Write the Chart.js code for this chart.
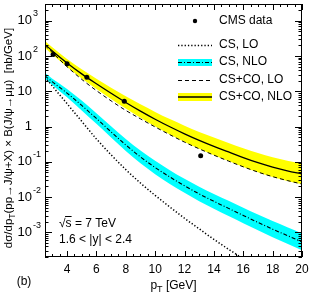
<!DOCTYPE html>
<html>
<head>
<meta charset="utf-8">
<script src="https://cdn.jsdelivr.net/npm/chart.js@4/dist/chart.umd.min.js"></script>
<style>
html, body { margin: 0; padding: 0; background: #fff; }
</style>
</head>
<body>
<canvas id="chart" width="316" height="296"></canvas>
<script>
// pT grid for the theory curves
var pt = [2.5, 3, 4, 5, 6, 7, 8, 9, 10, 11, 12, 13, 14, 15, 16, 17, 18, 19, 20];

// CS, LO (dotted) - runs off the bottom near 15 GeV
var csLO = [25.1, 14.1, 4.47, 1.41, 0.447, 0.158, 0.0603, 0.0251, 0.0112, 0.00525, 0.00251, 0.00126, 0.000631, 0.000331, 0.000178];

// CS, NLO central + band
var csNLO = [27.5, 18.6, 8.91, 3.98, 1.70, 0.708, 0.302, 0.138, 0.0692, 0.0372, 0.0209, 0.0123, 0.00759, 0.00479, 0.00302, 0.00191, 0.00123, 0.000813, 0.000537];
var csNLOHigh = [33.1, 22.9, 11.7, 5.50, 2.40, 1.02, 0.447, 0.209, 0.107, 0.0582, 0.0331, 0.0197, 0.0123, 0.00785, 0.00501, 0.00320, 0.00209, 0.00140, 0.000933];
var csNLOLow = [22.9, 15.1, 6.76, 2.88, 1.20, 0.490, 0.204, 0.0912, 0.0447, 0.0237, 0.0132, 0.00767, 0.00468, 0.00292, 0.00182, 0.00114, 0.000724, 0.000473, 0.000309];

// CS+CO, LO (dashed)
var coLO = [200, 126, 50.1, 21.9, 10.5, 5.37, 2.88, 1.66, 0.977, 0.589, 0.363, 0.234, 0.155, 0.105, 0.0724, 0.0513, 0.0380, 0.0295, 0.0234];

// CS+CO, NLO central + band
var coNLO = [214, 140, 63.8, 31.3, 16.4, 8.81, 4.84, 2.75, 1.62, 0.989, 0.624, 0.407, 0.275, 0.191, 0.132, 0.0944, 0.0708, 0.0556, 0.0452];
var coNLOHigh = [269, 178, 83.2, 42.2, 22.9, 12.7, 7.24, 4.27, 2.60, 1.63, 1.06, 0.708, 0.490, 0.345, 0.243, 0.177, 0.135, 0.107, 0.0881];
var coNLOLow = [170, 110, 49.0, 23.2, 11.7, 6.10, 3.24, 1.78, 1.01, 0.598, 0.367, 0.234, 0.155, 0.105, 0.0714, 0.0504, 0.0372, 0.0288, 0.0232];

// CMS data, 1.6 < |y| < 2.4
var cmsPt = [3.05, 4.0, 5.35, 7.9, 13.1];
var cmsVal = [110, 61, 25, 5.2, 0.15];

// axis labels
var xTickLabels = [4, 6, 8, 10, 12, 14, 16, 18, 20];
var yTickExp = [-3, -2, -1, 0, 1, 2, 3];

var FONT = '"Liberation Sans", Arial, Helvetica, sans-serif';

function pts(xs, ys) {
    return ys.map(function(v, i) { return {x: xs[i], y: v}; });
}

function lineSet(values, dash, width, order) {
    return {
        data: pts(pt, values),
        borderColor: '#000',
        borderWidth: width,
        borderDash: dash,
        fill: false,
        pointRadius: 0,
        cubicInterpolationMode: 'monotone',
        order: order
    };
}

function bandEdge(values, fillTo, color, order) {
    return {
        data: pts(pt, values),
        borderWidth: 0,
        borderColor: 'rgba(0,0,0,0)',
        backgroundColor: color,
        fill: fillTo,
        pointRadius: 0,
        cubicInterpolationMode: 'monotone',
        order: order
    };
}

function setFont(ctx, size) {
    ctx.font = size + 'px ' + FONT;
}

var framePlugin = {
    id: 'frame',
    afterDraw: function(chart) {
        var ctx = chart.ctx;
        var a = chart.chartArea;
        var xs = chart.scales.x, ys = chart.scales.y;
        ctx.save();
        ctx.strokeStyle = '#000';
        ctx.fillStyle = '#000';
        ctx.lineWidth = 1;
        ctx.setLineDash([]);

        // frame
        ctx.strokeRect(a.left + 0.5, a.top + 0.5, a.right - a.left - 1, a.bottom - a.top - 1);

        // x ticks (inward, bottom and top)
        ctx.beginPath();
        for (var v = 2.5; v <= 20.001; v += 0.5) {
            var px = Math.round(xs.getPixelForValue(v)) + 0.5;
            var len = (Math.abs(v % 2) < 0.001) ? 6 : 3;
            ctx.moveTo(px, a.bottom);
            ctx.lineTo(px, a.bottom - len);
            ctx.moveTo(px, a.top);
            ctx.lineTo(px, a.top + len);
        }
        // y ticks (inward, left and right)
        for (var e = -4; e <= 3; e++) {
            for (var m = 1; m <= 9; m++) {
                var val = m * Math.pow(10, e);
                if (val < ys.min || val > ys.max) continue;
                var py = Math.round(ys.getPixelForValue(val)) + 0.5;
                var l = (m === 1) ? 7 : 3.5;
                ctx.moveTo(a.left, py);
                ctx.lineTo(a.left + l, py);
                ctx.moveTo(a.right, py);
                ctx.lineTo(a.right - l, py);
            }
        }
        ctx.stroke();

        // x tick labels
        setFont(ctx, 12);
        ctx.textAlign = 'center';
        ctx.textBaseline = 'middle';
        xTickLabels.forEach(function(t) {
            ctx.fillText(String(t), xs.getPixelForValue(t), a.bottom + 13);
        });

        // y tick labels
        yTickExp.forEach(function(e) {
            var py = ys.getPixelForValue(Math.pow(10, e));
            setFont(ctx, 13);
            ctx.textAlign = 'right';
            ctx.textBaseline = 'middle';
            if (e === 0) { ctx.fillText('1', 32, py); return; }
            ctx.fillText('10', 32, py);
            if (e === 1) return;
            setFont(ctx, 9);
            ctx.textAlign = 'left';
            ctx.fillText(String(e), 33, py - 7);
        });

        // x axis title
        setFont(ctx, 12);
        ctx.textBaseline = 'alphabetic';
        ctx.textAlign = 'left';
        var w1 = ctx.measureText('p').width;
        setFont(ctx, 9);
        var w2 = ctx.measureText('T').width;
        setFont(ctx, 12);
        var w3 = ctx.measureText(' [GeV]').width;
        var x0 = (a.left + a.right) / 2 - (w1 + w2 + w3) / 2;
        ctx.fillText('p', x0, 289);
        setFont(ctx, 9);
        ctx.fillText('T', x0 + w1, 292);
        setFont(ctx, 12);
        ctx.fillText(' [GeV]', x0 + w1 + w2, 289);

        // y axis title (rotated)
        ctx.save();
        ctx.translate(12, 138);
        ctx.rotate(-Math.PI / 2);
        var parts = [['d\u03c3/dp', 0], ['T', 1], ['(pp\u2192J/\u03c8+X) \u00d7 B(J/\u03c8\u2192\u03bc\u03bc)  [nb/GeV]', 0]];
        var big = 11.5, small = 8.5, total = 0;
        parts.forEach(function(p) { setFont(ctx, p[1] ? small : big); total += ctx.measureText(p[0]).width; });
        var cx = -total / 2;
        parts.forEach(function(p) {
            setFont(ctx, p[1] ? small : big);
            ctx.fillText(p[0], cx, p[1] ? 3 : 0);
            cx += ctx.measureText(p[0]).width;
        });
        ctx.restore();

        // (b)
        setFont(ctx, 12);
        ctx.textAlign = 'center';
        ctx.fillText('(b)', 24, 285);

        // sqrt(s) and rapidity text
        ctx.textAlign = 'left';
        setFont(ctx, 12);
        var sx = 59, sy = 227;
        var rw = ctx.measureText('\u221a').width;
        var sw = ctx.measureText('s').width;
        ctx.fillText('\u221as = 7 TeV', sx, sy);
        ctx.beginPath();
        ctx.moveTo(sx + rw - 0.5, sy - 10.5);
        ctx.lineTo(sx + rw + sw, sy - 10.5);
        ctx.stroke();
        ctx.fillText('1.6 < |y| < 2.4', sx, 243);

        // legend
        var lx0 = 178, lx1 = 212, tx = 219;
        ctx.textBaseline = 'middle';
        // CMS data
        ctx.beginPath();
        ctx.arc(195, 21, 2.2, 0, Math.PI * 2);
        ctx.fill();
        ctx.fillText('CMS data', tx, 21);
        // CS, LO
        ctx.beginPath();
        ctx.setLineDash([1.3, 2]);
        ctx.lineWidth = 1.5;
        ctx.moveTo(lx0, 45.5); ctx.lineTo(lx1, 45.5);
        ctx.stroke();
        ctx.fillText('CS, LO', tx, 45);
        // CS, NLO
        ctx.fillStyle = '#00ffff';
        ctx.fillRect(lx0, 59, lx1 - lx0, 7);
        ctx.fillStyle = '#000';
        ctx.beginPath();
        ctx.lineWidth = 1.1;
        ctx.setLineDash([4, 2, 1, 2]);
        ctx.moveTo(lx0, 62.5); ctx.lineTo(lx1, 62.5);
        ctx.stroke();
        ctx.fillText('CS, NLO', tx, 62);
        // CS+CO, LO
        ctx.beginPath();
        ctx.setLineDash([4, 3]);
        ctx.lineWidth = 1;
        ctx.moveTo(lx0, 80.5); ctx.lineTo(lx1, 80.5);
        ctx.stroke();
        ctx.fillText('CS+CO, LO', tx, 80);
        // CS+CO, NLO
        ctx.fillStyle = '#ffff00';
        ctx.fillRect(lx0, 93, lx1 - lx0, 8);
        ctx.fillStyle = '#000';
        ctx.beginPath();
        ctx.setLineDash([]);
        ctx.lineWidth = 1.3;
        ctx.moveTo(lx0, 97); ctx.lineTo(lx1, 97);
        ctx.stroke();
        ctx.fillText('CS+CO, NLO', tx, 97);

        ctx.restore();
    }
};

var ctx = document.getElementById('chart').getContext('2d');
new Chart(ctx, {
    type: 'line',
    data: {
        datasets: [
            bandEdge(coNLOLow, false, 'rgba(0,0,0,0)', 10),
            bandEdge(coNLOHigh, '-1', '#ffff00', 10),
            bandEdge(csNLOLow, false, 'rgba(0,0,0,0)', 9),
            bandEdge(csNLOHigh, '-1', '#00ffff', 9),
            lineSet(csLO, [1.3, 2], 1.5, 2),
            lineSet(csNLO, [4, 2, 1, 2], 1.1, 2),
            lineSet(coLO, [4, 3], 1, 2),
            lineSet(coNLO, [], 1.3, 1),
            {
                data: pts(cmsPt, cmsVal),
                showLine: false,
                pointRadius: 2.5,
                pointBackgroundColor: '#000',
                pointBorderColor: '#000',
                pointBorderWidth: 0,
                order: 0
            }
        ]
    },
    options: {
        responsive: false,
        animation: false,
        devicePixelRatio: 1,
        layout: { padding: { left: 45, right: 14, top: 2, bottom: 39 } },
        plugins: { legend: { display: false }, tooltip: { enabled: false } },
        scales: {
            x: { type: 'linear', min: 2.5, max: 20, display: false },
            y: { type: 'logarithmic', min: 2e-4, max: 3000, display: false }
        }
    },
    plugins: [framePlugin]
});
</script>
</body>
</html>
